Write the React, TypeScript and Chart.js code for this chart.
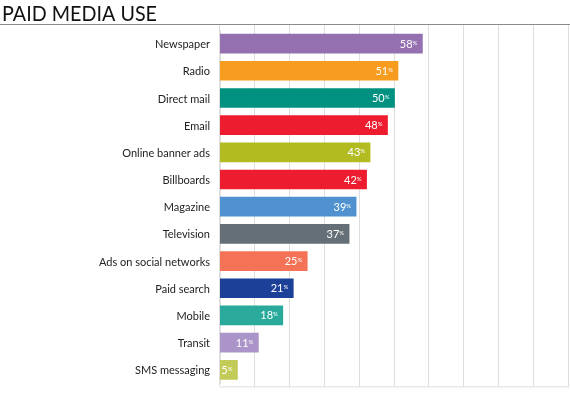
import React, { useEffect, useRef } from "react";
import { Chart, registerables } from "chart.js";

Chart.register(...registerables);

const title = "PAID MEDIA USE";
const categories = [
  "Newspaper",
  "Radio",
  "Direct mail",
  "Email",
  "Online banner ads",
  "Billboards",
  "Magazine",
  "Television",
  "Ads on social networks",
  "Paid search",
  "Mobile",
  "Transit",
  "SMS messaging",
];
const values = [58, 51, 50, 48, 43, 42, 39, 37, 25, 21, 18, 11, 5];
const barColors = [
  "#9470b0",
  "#f89c20",
  "#009180",
  "#ed1c2e",
  "#b2bc20",
  "#ed1c2e",
  "#4f92cf",
  "#646f77",
  "#f47256",
  "#1c4097",
  "#2aaa9b",
  "#ab95c8",
  "#c2cb58",
];
const gridTicks = [0, 10, 20, 30, 40, 50, 60, 70, 80, 90, 100];

const FONT = "Lato, 'Open Sans', sans-serif";

export default function App() {
  const ref = useRef<HTMLCanvasElement>(null);

  useEffect(() => {
    document.body.style.margin = "0";
    const decor = {
      id: "decor",
      beforeDraw(chart: any) {
        const ctx = chart.ctx;
        ctx.save();
        ctx.fillStyle = "#111";
        ctx.font = `22px ${FONT}`;
        ctx.textBaseline = "alphabetic";
        ctx.textAlign = "left";
        const w = ctx.measureText(title).width;
        const sx = 155 / w;
        ctx.translate(2, 21);
        ctx.scale(sx, 1);
        ctx.fillText(title, 0, 0);
        ctx.restore();
        ctx.save();
        ctx.strokeStyle = "#8a8a8a";
        ctx.lineWidth = 1;
        ctx.beginPath();
        ctx.moveTo(0, 24.5);
        ctx.lineTo(570, 24.5);
        ctx.stroke();
        ctx.restore();
      },
      beforeDatasetsDraw(chart: any) {
        const ctx = chart.ctx;
        const xs = chart.scales.x;
        const area = chart.chartArea;
        ctx.save();
        ctx.strokeStyle = "#dedede";
        ctx.lineWidth = 1;
        gridTicks.forEach((t) => {
          const x = Math.round(xs.getPixelForValue(t)) - 0.5;
          ctx.beginPath();
          ctx.moveTo(x, 25);
          ctx.lineTo(x, area.bottom + 3);
          ctx.stroke();
        });
        ctx.beginPath();
        ctx.moveTo(xs.getPixelForValue(0), area.bottom + 3.5);
        ctx.lineTo(xs.getPixelForValue(100), area.bottom + 3.5);
        ctx.stroke();
        ctx.restore();
      },
      afterDatasetsDraw(chart: any) {
        const ctx = chart.ctx;
        const meta = chart.getDatasetMeta(0);
        ctx.save();
        ctx.fillStyle = "#ffffff";
        ctx.textBaseline = "alphabetic";
        meta.data.forEach((bar: any, i: number) => {
          const right = bar.x - 5;
          ctx.font = `6px ${FONT}`;
          ctx.textAlign = "right";
          ctx.fillText("%", right, bar.y + 1);
          const pw = ctx.measureText("%").width;
          ctx.font = `11px ${FONT}`;
          ctx.fillText(String(values[i]), right - pw, bar.y + 4);
        });
        ctx.restore();
      },
    };

    const chart = new Chart(ref.current!, {
      type: "bar",
      data: {
        labels: categories,
        datasets: [
          {
            data: values,
            backgroundColor: barColors,
            borderWidth: 0,
            barThickness: 19,
          },
        ],
      },
      options: {
        indexAxis: "y",
        animation: false,
        responsive: true,
        maintainAspectRatio: false,
        layout: { padding: { top: 30, bottom: 5, right: 1, left: 0 } },
        plugins: {
          legend: { display: false },
          title: { display: false },
          tooltip: { enabled: false },
        },
        scales: {
          x: { display: false, min: 0, max: 100 },
          y: {
            type: "category",
            grid: { display: false, drawTicks: false },
            border: { display: true, color: "#dedede" },
            ticks: {
              color: "#222",
              font: { family: FONT, size: 11 },
              padding: 10,
              labelOffset: 1,
            },
            afterFit(scale: any) {
              scale.width = 220;
            },
          },
        },
      },
      plugins: [decor],
    });
    return () => chart.destroy();
  }, []);

  return (
    <div style={{ width: 570, height: 400, position: "relative" }}>
      <canvas ref={ref} />
    </div>
  );
}
